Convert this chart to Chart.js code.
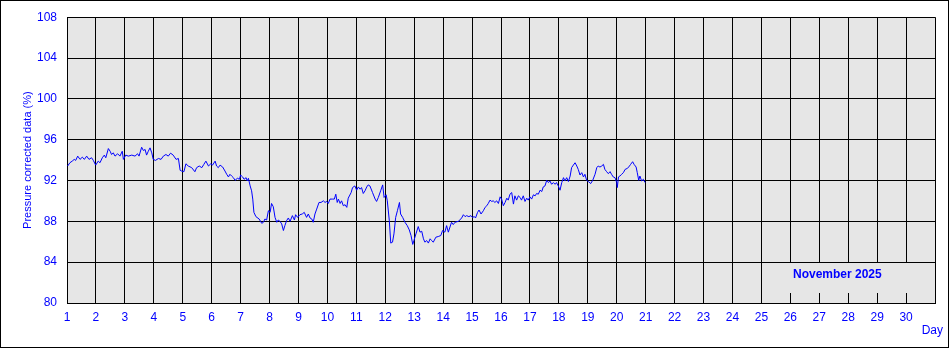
<!DOCTYPE html>
<html>
<head>
<meta charset="utf-8">
<title>Pressure corrected data</title>
<script src="https://cdn.jsdelivr.net/npm/chart.js@4/dist/chart.umd.min.js"></script>
<style>
  body { margin: 0; background: #ffffff; }
  canvas { display: block; }
</style>
</head>
<body>
<canvas id="pressureChart" width="949" height="348"></canvas>
<script>
// Time of each reading, in days of the month
const days = [
  1.02, 1.10, 1.18, 1.25, 1.30, 1.37, 1.45, 1.53, 1.60, 1.68, 1.76, 1.85, 1.91, 1.99, 2.08, 2.14,
  2.22, 2.29, 2.34, 2.43, 2.49, 2.54, 2.60, 2.66, 2.75, 2.83, 2.91, 2.95, 3.03, 3.12, 3.24, 3.35,
  3.44, 3.49, 3.58, 3.64, 3.70, 3.75, 3.81, 3.87, 3.93, 3.98, 4.06, 4.16, 4.25, 4.33, 4.42, 4.50,
  4.58, 4.67, 4.77, 4.85, 4.91, 4.96, 5.04, 5.11, 5.19, 5.31, 5.42, 5.48, 5.57, 5.66, 5.73, 5.80,
  5.89, 5.97, 6.03, 6.12, 6.17, 6.23, 6.29, 6.38, 6.46, 6.52, 6.58, 6.63, 6.69, 6.75, 6.81, 6.89,
  6.96, 7.00, 7.07, 7.12, 7.19, 7.23, 7.27, 7.33, 7.38, 7.42, 7.46, 7.53, 7.64, 7.73, 7.79, 7.84,
  7.90, 7.96, 8.02, 8.07, 8.13, 8.19, 8.25, 8.30, 8.36, 8.42, 8.48, 8.53, 8.59, 8.65, 8.71, 8.79,
  8.86, 8.90, 8.97, 9.05, 9.13, 9.20, 9.28, 9.34, 9.40, 9.46, 9.51, 9.57, 9.63, 9.71, 9.78, 9.86,
  9.92, 9.97, 10.03, 10.09, 10.17, 10.24, 10.29, 10.34, 10.38, 10.44, 10.49, 10.55, 10.61, 10.67, 10.72, 10.82,
  10.87, 10.95, 11.01, 11.07, 11.13, 11.18, 11.24, 11.30, 11.36, 11.41, 11.47, 11.56, 11.65, 11.70, 11.76, 11.84,
  11.91, 11.96, 12.03, 12.07, 12.14, 12.19, 12.25, 12.30, 12.36, 12.42, 12.49, 12.53, 12.60, 12.68, 12.76, 12.83,
  12.89, 12.95, 12.99, 13.06, 13.14, 13.20, 13.26, 13.32, 13.37, 13.43, 13.49, 13.55, 13.60, 13.66, 13.75, 13.83,
  13.92, 13.98, 14.06, 14.12, 14.18, 14.29, 14.35, 14.41, 14.53, 14.64, 14.70, 14.76, 14.81, 14.89, 14.96, 15.01,
  15.08, 15.12, 15.19, 15.24, 15.31, 15.39, 15.45, 15.51, 15.56, 15.62, 15.68, 15.73, 15.79, 15.85, 15.91, 15.97,
  16.02, 16.08, 16.14, 16.20, 16.25, 16.31, 16.37, 16.43, 16.48, 16.54, 16.60, 16.66, 16.71, 16.77, 16.83, 16.89,
  16.94, 17.00, 17.06, 17.12, 17.18, 17.23, 17.29, 17.35, 17.41, 17.46, 17.52, 17.58, 17.64, 17.69, 17.75, 17.81,
  17.87, 17.92, 17.98, 18.04, 18.10, 18.16, 18.21, 18.27, 18.33, 18.39, 18.44, 18.50, 18.56, 18.62, 18.67, 18.73,
  18.79, 18.85, 18.90, 18.96, 19.02, 19.10, 19.17, 19.25, 19.31, 19.36, 19.42, 19.48, 19.54, 19.59, 19.65, 19.71,
  19.77, 19.82, 19.88, 19.94, 20.00, 20.02, 20.06, 20.11, 20.17, 20.23, 20.29, 20.37, 20.44, 20.48, 20.55, 20.60,
  20.67, 20.71, 20.76, 20.80, 20.86, 20.92, 20.98, 21.01
];

// Pressure corrected values (%) for each reading
const pressure = [
  93.42, 93.74, 93.90, 94.07, 93.97, 94.39, 94.07, 94.29, 94.07, 94.39, 94.07, 94.23, 93.97, 93.51, 93.90, 93.74,
  94.23, 94.49, 94.23, 95.13, 94.87, 94.55, 94.71, 94.39, 94.62, 94.39, 94.87, 94.07, 94.49, 94.39, 94.49, 94.39,
  94.62, 94.39, 95.26, 94.94, 95.04, 94.49, 94.87, 95.20, 94.71, 94.07, 93.97, 94.16, 94.07, 94.39, 94.55, 94.39,
  94.68, 94.49, 94.07, 94.16, 93.00, 92.93, 92.86, 93.64, 93.42, 93.26, 92.86, 93.26, 93.42, 93.26, 93.58, 93.90,
  93.42, 93.64, 93.51, 93.90, 93.42, 93.26, 93.51, 93.32, 92.93, 92.61, 92.35, 92.61, 92.44, 92.28, 92.02, 92.22,
  92.12, 92.54, 92.35, 92.12, 92.28, 91.96, 92.22, 91.47, 90.99, 90.18, 88.88, 88.46, 88.23, 87.81, 87.91, 88.23,
  88.13, 89.04, 88.88, 89.75, 89.43, 88.39, 87.91, 88.13, 88.00, 87.75, 87.10, 87.58, 88.07, 88.33, 88.00, 88.56,
  88.13, 88.65, 88.39, 88.65, 88.72, 88.88, 88.39, 88.72, 88.33, 88.23, 87.91, 88.72, 89.20, 89.85, 89.85, 90.01,
  89.85, 89.95, 89.75, 90.18, 90.18, 90.18, 90.66, 89.85, 90.18, 89.75, 90.01, 89.53, 89.63, 89.37, 90.27, 90.82,
  91.31, 91.47, 91.05, 91.37, 91.15, 91.31, 90.73, 90.99, 91.37, 91.57, 91.47, 90.82, 90.18, 89.95, 90.34, 90.99,
  91.57, 90.34, 90.60, 90.01, 88.07, 85.87, 85.96, 86.77, 88.39, 89.04, 89.85, 88.72, 88.39, 87.91, 87.58, 87.16,
  86.61, 85.74, 86.12, 86.77, 87.49, 86.94, 87.03, 86.29, 85.96, 86.12, 85.87, 86.29, 86.12, 85.96, 86.45, 86.51,
  86.61, 87.10, 86.94, 87.58, 86.94, 87.91, 87.68, 87.91, 88.00, 88.33, 88.65, 88.46, 88.56, 88.46, 88.56, 88.39,
  88.46, 88.33, 88.88, 89.11, 88.72, 89.04, 89.37, 89.53, 89.75, 90.08, 89.95, 90.01, 89.85, 90.01, 89.75, 90.40,
  90.18, 89.53, 89.85, 90.27, 90.08, 90.66, 90.82, 89.69, 90.50, 90.08, 90.50, 90.34, 90.08, 90.50, 89.95, 90.27,
  90.08, 90.40, 90.18, 90.60, 90.50, 90.73, 90.66, 91.05, 90.92, 91.37, 91.47, 92.02, 91.80, 91.96, 91.63, 91.80,
  91.63, 91.80, 91.47, 91.05, 91.80, 92.28, 91.96, 92.28, 91.90, 92.44, 93.26, 93.51, 93.74, 93.42, 93.09, 92.54,
  92.77, 92.35, 92.61, 92.02, 91.90, 91.70, 92.02, 92.61, 93.26, 93.42, 93.32, 93.42, 93.58, 93.09, 92.87, 92.67,
  92.87, 92.61, 92.35, 92.28, 91.80, 91.31, 92.35, 92.44, 92.61, 92.77, 93.09, 93.19, 93.42, 93.58, 93.84, 93.58,
  93.32, 92.77, 92.02, 92.44, 91.96, 92.12, 91.80, 91.80
];

// Axis ranges and labels
const dayRange = [1, 31];
const valueRange = [80, 108];
const valueStep = 4;
const monthLabel = "November 2025";
const dayTitle = "Day";
const valueTitle = "Pressure corrected data (%)";

const textBlue = "#0000ff";
const plotGrey = "#e6e6e6";
const labelFont = { family: "'Liberation Sans', Arial, sans-serif", size: 12 };
const titleFont = { family: "'Liberation Sans', Arial, sans-serif", size: 11 };

// Grey plot background, month box, "Day" label and outer frame
const decorations = {
  id: "decorations",
  beforeDraw(chart) {
    const { ctx, chartArea } = chart;
    ctx.save();
    ctx.fillStyle = "#ffffff";
    ctx.fillRect(0, 0, chart.width, chart.height);
    ctx.fillStyle = plotGrey;
    ctx.fillRect(chartArea.left, chartArea.top, chartArea.right - chartArea.left, chartArea.bottom - chartArea.top);
    ctx.restore();
  },
  afterDraw(chart) {
    const { ctx, chartArea } = chart;
    const x = chart.scales.x;
    const y = chart.scales.y;

    // box with the month name, covering the grid in the lower right corner
    const boxLeft = Math.round(x.getPixelForValue(25)) + 1;
    const boxTop = Math.round(y.getPixelForValue(84)) + 1;
    const boxBottom = Math.round(y.getPixelForValue(81));
    ctx.save();
    ctx.fillStyle = plotGrey;
    ctx.fillRect(boxLeft, boxTop, chartArea.right - 1 - boxLeft, boxBottom - boxTop);
    ctx.fillStyle = textBlue;
    ctx.font = "bold 12px 'Liberation Sans', Arial, sans-serif";
    ctx.textAlign = "left";
    ctx.textBaseline = "middle";
    ctx.fillText(monthLabel, boxLeft + 31, boxTop + 12);

    // "Day" under the right end of the x axis
    ctx.font = "12px 'Liberation Sans', Arial, sans-serif";
    ctx.textAlign = "right";
    ctx.fillText(dayTitle, chartArea.right + 8, chartArea.bottom + 28);

    // outer frame round the whole picture
    ctx.strokeStyle = "#000000";
    ctx.lineWidth = 1;
    ctx.strokeRect(0.5, 0.5, chart.width - 1, chart.height - 1);
    ctx.restore();
  }
};

function initializeChart() {
  const points = days.map((d, i) => ({ x: d, y: pressure[i] }));
  const ctx = document.getElementById("pressureChart");

  new Chart(ctx, {
    type: "line",
    data: {
      datasets: [{
        data: points,
        borderColor: "#0000ff",
        borderWidth: 1,
        pointRadius: 0,
        tension: 0,
        fill: false
      }]
    },
    options: {
      responsive: false,
      animation: false,
      devicePixelRatio: 1,
      layout: { padding: { top: 15, right: 14, left: 0, bottom: 0 } },
      plugins: { legend: { display: false }, tooltip: { enabled: false } },
      scales: {
        x: {
          type: "linear",
          min: dayRange[0],
          max: dayRange[1],
          afterFit: scale => { scale.height = 45; },
          ticks: {
            stepSize: 1,
            color: textBlue,
            font: labelFont,
            padding: 7,
            maxRotation: 0,
            autoSkip: false,
            callback: v => (v < dayRange[1] ? v : "")
          },
          grid: { color: "#000000", lineWidth: 1, drawTicks: false },
          border: { display: true, color: "#000000" }
        },
        y: {
          min: valueRange[0],
          max: valueRange[1],
          afterFit: scale => { scale.width = 67; },
          ticks: {
            stepSize: valueStep,
            color: textBlue,
            font: labelFont,
            padding: 10
          },
          title: {
            display: true,
            text: valueTitle,
            color: textBlue,
            font: titleFont,
            padding: { top: 21, bottom: 0 }
          },
          grid: { color: "#000000", lineWidth: 1, drawTicks: false },
          border: { display: true, color: "#000000" }
        }
      }
    },
    plugins: [decorations]
  });
}

document.addEventListener("DOMContentLoaded", initializeChart);
</script>
</body>
</html>
